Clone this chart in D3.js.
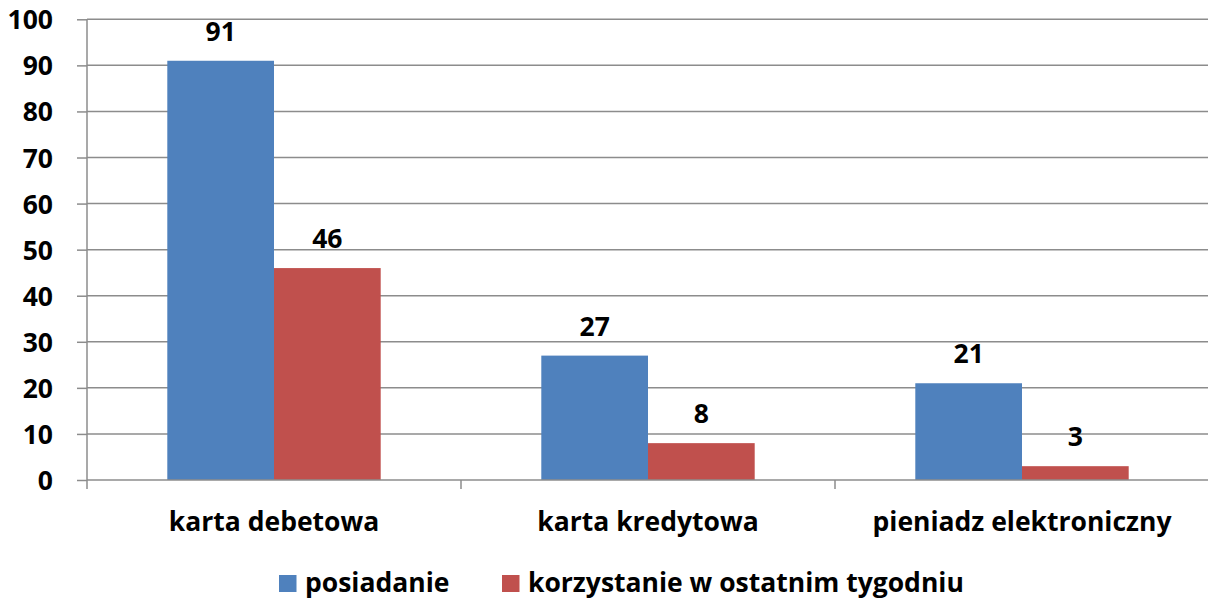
<!DOCTYPE html>
<html><head><meta charset="utf-8">
<script src="https://cdn.jsdelivr.net/npm/d3@7"></script>
<style>body{margin:0;background:#fff}svg{display:block}text{font-family:"Open Sans",sans-serif;font-weight:bold;fill:#000}</style>
</head><body><svg id="c" width="1208" height="601"></svg>
<script>
const categories = ["karta debetowa","karta kredytowa","pieniadz elektroniczny"];
const seriesNames = ["posiadanie","korzystanie w ostatnim tygodniu"];
const posiadanie = [91,27,21];
const korzystanie = [46,8,3];
const yTicks = [0,10,20,30,40,50,60,70,80,90,100];
const colors = ["#4F81BD","#C0504D"];

(function(){
const FS = 26.5, FF = '"Open Sans",sans-serif';
const svg = d3.select("#c");
const pL = 87, pR = 1209, pT = 19.3, pB = 480;
const x = d3.scaleBand().domain(categories).range([pL,pR]);
const y = d3.scaleLinear().domain([0,100]).range([pB,pT]);

svg.append("g").selectAll("line").data(yTicks.filter(d=>d>0)).join("line")
  .attr("x1",pL).attr("x2",pR).attr("y1",d=>y(d)).attr("y2",d=>y(d))
  .attr("stroke","#8c8c8c").attr("stroke-width",1.5);

const series = [posiadanie, korzystanie];
const bw = 106.7, off = (x.bandwidth() - 2*bw)/2;
series.forEach((vals,si)=>{
  svg.append("g").selectAll("rect").data(categories).join("rect")
    .attr("x",(c)=>x(c)+off+si*bw).attr("width",bw)
    .attr("y",(c,i)=>y(vals[i])).attr("height",(c,i)=>pB-y(vals[i]))
    .attr("fill",colors[si]);
  svg.append("g").selectAll("text").data(categories).join("text")
    .attr("x",(c)=>x(c)+off+si*bw+bw/2).attr("y",(c,i)=>y(vals[i])-20)
    .attr("text-anchor","middle").attr("font-size",FS).text((c,i)=>vals[i]);
});

const yAxis = d3.axisLeft(y).tickValues(yTicks).tickSize(10).tickPadding(24);
const ga = svg.append("g").attr("transform",`translate(${pL},0)`).call(yAxis);
ga.select(".domain").attr("stroke","#8c8c8c").attr("stroke-width",1.5).attr("d",`M0,${pT}V${pB+9}`);
ga.selectAll(".tick line").attr("stroke","#8c8c8c").attr("stroke-width",1.5);
ga.selectAll(".tick text").attr("font-size",FS).attr("font-family",FF).attr("font-weight","bold").attr("fill","#000").attr("dy","0.36em");

const xAxis = d3.axisBottom(x).tickSize(0).tickPadding(0);
const gx = svg.append("g").attr("transform",`translate(0,${pB})`).call(xAxis);
gx.select(".domain").attr("stroke","#8c8c8c").attr("stroke-width",1.5).attr("d",`M${pL},0H${pR}`);
gx.selectAll(".tick text").attr("font-size",FS).attr("font-family",FF).attr("font-weight","bold").attr("fill","#000").attr("y",51).attr("dy",0);
svg.append("g").selectAll("line").data(categories).join("line")
  .attr("x1",c=>x(c)+x.bandwidth()).attr("x2",c=>x(c)+x.bandwidth())
  .attr("y1",pB).attr("y2",pB+9).attr("stroke","#8c8c8c").attr("stroke-width",1.5);

const legendX = [279, 502];
const lg = svg.append("g");
seriesNames.forEach((n,i)=>{
  lg.append("rect").attr("x",legendX[i]).attr("y",575).attr("width",17.5).attr("height",17).attr("fill",colors[i]);
  lg.append("text").attr("x",legendX[i]+26).attr("y",592).attr("font-size",FS).text(n);
});
})();
</script></body></html>
